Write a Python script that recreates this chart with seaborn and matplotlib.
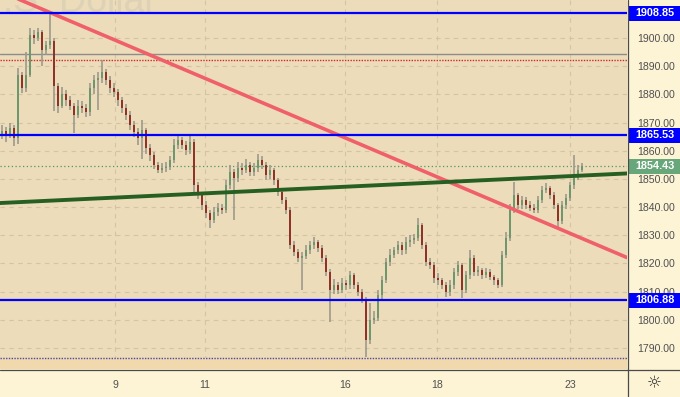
import matplotlib
matplotlib.use("Agg")
import matplotlib.pyplot as plt
import matplotlib.transforms as mtransforms
from matplotlib.patches import Rectangle
import numpy as np
import seaborn as sns

sns.set_style("white")
plt.rcParams["font.family"] = ["Liberation Sans", "DejaVu Sans"]

# ---------------- data ----------------
opens = [1866.0, 1867.0, 1865.5, 1868.0, 1864.5, 1887.0, 1882.3, 1887.0, 1901.0, 1900.0,
         1902.0, 1895.7, 1897.5, 1899.0, 1883.0, 1876.0, 1880.0, 1878.0, 1876.0, 1872.7,
         1876.0, 1875.0, 1873.7, 1882.3, 1885.0, 1885.8, 1888.0, 1885.0, 1882.3, 1880.8,
         1878.0, 1875.0, 1872.7, 1869.0, 1866.6, 1864.5, 1867.4, 1861.0, 1858.5, 1855.0,
         1853.2, 1853.9, 1854.2, 1856.7, 1862.0, 1863.8, 1862.0, 1860.3, 1863.0, 1847.8,
         1844.3, 1840.7, 1837.9, 1835.4, 1838.3, 1839.7, 1839.0, 1847.8, 1852.4, 1850.3,
         1853.9, 1853.2, 1854.9, 1852.4, 1853.9, 1856.7, 1855.0, 1851.4, 1853.2, 1849.6,
         1845.4, 1842.5, 1839.0, 1826.5, 1824.0, 1821.9, 1822.8, 1824.8, 1826.5, 1827.6,
         1825.5, 1821.9, 1817.0, 1810.6, 1812.3, 1810.6, 1813.0, 1812.3, 1815.9, 1812.3,
         1809.9, 1807.0, 1792.8, 1800.0, 1800.6, 1808.8, 1814.1, 1820.5, 1823.0, 1824.8,
         1826.5, 1824.8, 1827.6, 1828.3, 1829.0, 1833.6, 1826.5, 1820.5, 1819.4, 1814.8,
         1814.1, 1812.3, 1809.9, 1812.3, 1816.9, 1819.4, 1810.6, 1815.9, 1822.0, 1817.0,
         1817.7, 1815.9, 1817.0, 1815.2, 1814.1, 1812.3, 1823.0, 1829.0, 1839.0, 1844.3,
         1840.7, 1842.5, 1840.7, 1839.7, 1839.0, 1842.5, 1846.0, 1846.8, 1844.3, 1840.7,
         1835.0, 1840.7, 1843.2, 1847.8, 1850.3, 1853.2]
closes = [1867.0, 1865.5, 1868.0, 1864.5, 1887.0, 1882.3, 1887.0, 1901.0, 1900.0, 1902.0,
          1895.7, 1897.5, 1899.0, 1883.0, 1876.0, 1880.0, 1878.0, 1876.0, 1872.7, 1876.0,
          1875.0, 1873.7, 1882.3, 1885.0, 1885.8, 1888.0, 1885.0, 1882.3, 1880.8, 1878.0,
          1875.0, 1872.7, 1869.0, 1866.6, 1864.5, 1867.4, 1861.0, 1858.5, 1855.0, 1853.2,
          1853.9, 1854.2, 1856.7, 1862.0, 1863.8, 1862.0, 1860.3, 1863.0, 1847.8, 1844.3,
          1840.7, 1837.9, 1835.4, 1838.3, 1839.7, 1839.0, 1847.8, 1852.4, 1850.3, 1853.9,
          1853.2, 1854.9, 1852.4, 1853.9, 1856.7, 1855.0, 1851.4, 1853.2, 1849.6, 1845.4,
          1842.5, 1839.0, 1826.5, 1824.0, 1821.9, 1822.8, 1824.8, 1826.5, 1827.6, 1825.5,
          1821.9, 1817.0, 1810.6, 1812.3, 1810.6, 1813.0, 1812.3, 1815.9, 1812.3, 1809.9,
          1807.0, 1792.8, 1800.0, 1800.6, 1808.8, 1814.1, 1820.5, 1823.0, 1824.8, 1826.5,
          1824.8, 1827.6, 1828.3, 1829.0, 1833.6, 1826.5, 1820.5, 1819.4, 1814.8, 1814.1,
          1812.3, 1809.9, 1812.3, 1816.9, 1819.4, 1810.6, 1815.9, 1822.0, 1817.0, 1817.7,
          1815.9, 1817.0, 1815.2, 1814.1, 1812.3, 1823.0, 1829.0, 1839.0, 1844.3, 1840.7,
          1842.5, 1840.7, 1839.7, 1839.0, 1842.5, 1846.0, 1846.8, 1844.3, 1840.7, 1835.0,
          1840.7, 1843.2, 1847.8, 1850.3, 1853.2, 1854.43]
highs = [1869.0, 1868.5, 1870.0, 1869.0, 1889.4, 1888.0, 1895.0, 1903.5, 1903.0, 1903.5,
         1903.0, 1899.0, 1908.9, 1900.0, 1884.0, 1882.5, 1881.5, 1879.5, 1877.0, 1878.0,
         1877.5, 1876.5, 1884.0, 1887.0, 1888.0, 1892.2, 1889.0, 1886.5, 1884.0, 1882.0,
         1879.0, 1876.5, 1874.0, 1870.5, 1868.0, 1870.9, 1868.0, 1862.5, 1859.5, 1856.0,
         1855.5, 1856.0, 1858.0, 1864.0, 1866.0, 1865.0, 1863.5, 1865.5, 1864.0, 1849.0,
         1845.5, 1842.0, 1839.0, 1840.0, 1841.5, 1841.0, 1849.5, 1855.0, 1853.5, 1856.0,
         1855.5, 1857.0, 1856.0, 1855.5, 1858.8, 1858.0, 1856.0, 1855.0, 1854.0, 1850.5,
         1846.5, 1843.5, 1840.0, 1828.0, 1825.0, 1824.0, 1826.5, 1828.0, 1829.3, 1828.5,
         1826.5, 1823.0, 1818.0, 1814.5, 1813.5, 1815.0, 1814.0, 1817.5, 1816.5, 1813.5,
         1811.0, 1808.0, 1806.0, 1803.0, 1810.5, 1815.5, 1822.0, 1825.0, 1826.0, 1828.0,
         1827.5, 1829.5, 1830.0, 1830.5, 1836.1, 1834.5, 1827.5, 1822.0, 1820.5, 1816.5,
         1815.0, 1813.5, 1814.0, 1818.5, 1821.0, 1820.0, 1817.5, 1824.8, 1823.0, 1819.0,
         1818.5, 1818.5, 1818.0, 1816.0, 1815.0, 1824.5, 1831.0, 1841.0, 1849.0, 1845.0,
         1844.0, 1843.5, 1842.0, 1841.0, 1844.0, 1847.5, 1848.5, 1847.5, 1845.5, 1841.5,
         1842.0, 1844.5, 1849.0, 1858.5, 1855.0, 1855.5]
lows = [1864.0, 1863.0, 1864.5, 1861.8, 1862.5, 1880.5, 1881.0, 1886.0, 1898.0, 1899.0,
        1890.0, 1894.0, 1896.0, 1874.0, 1873.5, 1875.0, 1876.0, 1874.5, 1866.3, 1871.5,
        1873.5, 1872.0, 1872.5, 1880.0, 1874.4, 1884.0, 1883.5, 1880.5, 1879.0, 1876.0,
        1873.5, 1871.0, 1867.5, 1865.0, 1862.0, 1857.0, 1859.0, 1856.5, 1853.5, 1852.0,
        1852.1, 1852.5, 1853.0, 1855.5, 1860.5, 1860.5, 1858.5, 1859.0, 1845.5, 1843.0,
        1839.0, 1836.0, 1832.6, 1834.5, 1837.0, 1837.5, 1838.0, 1846.5, 1835.4, 1849.0,
        1851.5, 1852.0, 1851.0, 1851.0, 1852.5, 1853.5, 1849.5, 1850.0, 1848.0, 1844.0,
        1841.0, 1837.5, 1825.0, 1822.5, 1820.5, 1810.6, 1821.5, 1823.5, 1825.0, 1824.0,
        1820.5, 1815.5, 1799.2, 1809.0, 1809.0, 1809.5, 1810.5, 1811.0, 1811.0, 1808.5,
        1806.0, 1786.8, 1791.5, 1798.5, 1799.5, 1807.5, 1813.0, 1819.0, 1822.0, 1823.5,
        1823.0, 1823.5, 1826.0, 1827.0, 1828.0, 1825.0, 1819.0, 1818.0, 1813.0, 1812.5,
        1811.0, 1808.1, 1808.5, 1811.0, 1815.5, 1807.7, 1809.5, 1814.5, 1815.5, 1815.5,
        1814.5, 1815.0, 1814.0, 1812.5, 1811.3, 1811.5, 1822.0, 1828.0, 1838.0, 1839.5,
        1839.5, 1839.5, 1838.5, 1837.9, 1838.0, 1841.5, 1845.0, 1843.0, 1839.5, 1832.6,
        1834.0, 1839.5, 1842.0, 1846.5, 1849.5, 1852.5]

day_tick_pos = [28.25, 50.75, 85.75, 108.75, 142.0]
day_tick_labels = ["9", "11", "16", "18", "23"]
price_ticks = [1790, 1800, 1810, 1820, 1830, 1840, 1850, 1860, 1870, 1880, 1890, 1900]

blue_levels = [1908.85, 1865.53, 1806.88]
last_price = 1854.43
grey_level = 1894.3
red_dotted_level = 1892.2
bottom_dotted_level = 1786.6

red_trend_x = [-0.5, 156.25]
red_trend_y = [1916.6, 1822.1]
green_trend_x = [-0.5, 156.25]
green_trend_y = [1841.45, 1851.95]

# ---------------- figure ----------------
W, H = 680, 397
fig = plt.figure(figsize=(W / 100, H / 100), dpi=100)
fig.patch.set_facecolor("#fdf3d5")
ax = fig.add_axes([0, 28 / H, 627 / W, 369 / H])
ax.set_facecolor("#ecdcba")
ax.set_xlim(-0.5, 156.25)
ax.set_ylim(1782.55, 1913.5)

# grid
for v in price_ticks:
    ax.axhline(v, color="#d3c4a4", lw=0.8, ls=(0, (4, 4)), zorder=0.5)
for p in day_tick_pos:
    ax.axvline(p, color="#d3c4a4", lw=0.8, ls=(0, (4, 4)), zorder=0.5)

# watermark
ax.text(157 / W, (H - 12) / H, "Gold Spot / U.S. Dollar", transform=fig.transFigure,
        ha="right", va="baseline", fontsize=27, color="#ddd1b6", zorder=0.6)

# bottom strip and horizontal levels
ax.axhspan(1782.0, bottom_dotted_level, color="#f1d9ad", zorder=0.7)
ax.axhline(bottom_dotted_level, color="#4a4aa8", lw=1.0, ls=(0, (1, 1)), zorder=1)
ax.axhline(grey_level, color="#8c8c8c", lw=1.0, zorder=1)
ax.axhline(red_dotted_level, color="#d22a2a", lw=1.0, ls=(0, (1, 1)), zorder=1)
ax.axhline(last_price, color="#4f9a5f", lw=0.9, ls=(0, (1, 2)), zorder=1)

# candles
xs = np.arange(len(closes))
o = np.array(opens)
c = np.array(closes)
hi = np.array(highs)
lo = np.array(lows)
up = c >= o
ax.vlines(xs, lo, hi, color="#9c998d", lw=1.2, zorder=2)
body_bottom = np.minimum(o, c)
body_h = np.maximum(np.abs(c - o), 0.5)
ax.bar(xs, body_h, bottom=body_bottom, width=0.32,
       color=np.where(up, "#6f976f", "#8d3328"), edgecolor="none", zorder=3)

# trend lines
sns.lineplot(x=red_trend_x, y=red_trend_y, ax=ax, color="#f0606b", lw=2.6, zorder=4, legend=False)
sns.lineplot(x=green_trend_x, y=green_trend_y, ax=ax, color="#275f23", lw=2.8, zorder=4, legend=False)
for lv in blue_levels:
    ax.axhline(lv, color="#0000ff", lw=1.6, zorder=5)

# axes / ticks
for s in ax.spines.values():
    s.set_visible(False)
ax.yaxis.tick_right()
ax.set_yticks(price_ticks)
ax.set_yticklabels([f"{v:.2f}" for v in price_ticks])
ax.set_xticks(day_tick_pos)
ax.set_xticklabels(day_tick_labels)
ax.tick_params(axis="y", length=0, pad=7.5, labelsize=7.6, labelcolor="#505050")
ax.tick_params(axis="x", length=0, pad=8, labelsize=7.6, labelcolor="#505050")
ax.set_xlabel("")
ax.set_ylabel("")

# price label boxes on the right scale
bt = mtransforms.blended_transform_factory(fig.transFigure, ax.transData)
box_h = 15 / 2.818
for lv, col in [(blue_levels[0], "#0000ff"), (blue_levels[1], "#0000ff"),
                (blue_levels[2], "#0000ff"), (last_price, "#68a77a")]:
    ax.add_patch(Rectangle((628 / W, lv - box_h / 2), 52 / W, box_h, transform=bt,
                           facecolor=col, edgecolor="none", clip_on=False, zorder=6))
    ax.text(655 / W, lv, f"{lv:.2f}", transform=bt, ha="center", va="center",
            color="white", fontsize=7.8, fontweight="bold", zorder=7, clip_on=False)

# frame lines and gear icon
fig.add_artist(plt.Line2D([627.5 / W, 627.5 / W], [0, 1], color="#4a4a4a", lw=0.9))
fig.add_artist(plt.Line2D([0, 1], [(H - 370) / H, (H - 370) / H], color="#4a4a4a", lw=0.9))
fig.text(654 / W, (H - 383) / H, "\u263c", ha="center", va="center", fontsize=12,
         color="#333333", family="DejaVu Sans")

fig.savefig("out.png", dpi=100, facecolor=fig.get_facecolor())
